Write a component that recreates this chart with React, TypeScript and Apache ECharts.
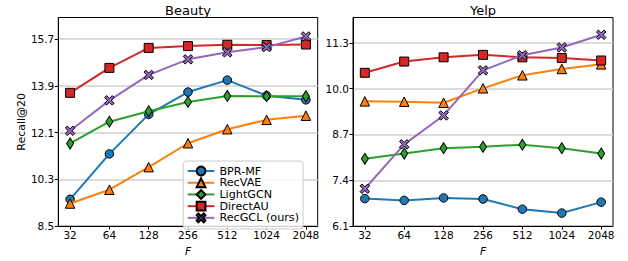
import React, { useEffect, useRef } from "react";
import * as echarts from "echarts";

const categories = ["32", "64", "128", "256", "512", "1024", "2048"];
const methodNames = ["BPR-MF", "RecVAE", "LightGCN", "DirectAU", "RecGCL (ours)"];

const beautyBPRMF = [9.53, 11.28, 12.8, 13.66, 14.12, 13.52, 13.36];
const beautyRecVAE = [9.37, 9.9, 10.77, 11.69, 12.23, 12.59, 12.75];
const beautyLightGCN = [11.68, 12.52, 12.92, 13.28, 13.51, 13.5, 13.5];
const beautyDirectAU = [13.63, 14.59, 15.36, 15.43, 15.48, 15.47, 15.49];
const beautyRecGCL = [12.17, 13.34, 14.32, 14.92, 15.19, 15.39, 15.8];

const yelpBPRMF = [6.88, 6.83, 6.9, 6.87, 6.58, 6.47, 6.78];
const yelpRecVAE = [9.64, 9.63, 9.6, 10.01, 10.38, 10.56, 10.69];
const yelpLightGCN = [8.01, 8.16, 8.31, 8.35, 8.41, 8.31, 8.16];
const yelpDirectAU = [10.45, 10.77, 10.89, 10.96, 10.89, 10.87, 10.8];
const yelpRecGCL = [7.16, 8.42, 9.24, 10.52, 10.95, 11.17, 11.53];

const beautyTicks = { min: 8.5, max: 16.53, interval: 1.8 };
const yelpTicks = { min: 6.1, max: 12.02, interval: 1.3 };

const colors = ["#1f77b4", "#ff7f0e", "#2ca02c", "#d62728", "#9467bd"];
const XPATH =
  "path://M2,0 L5,3 L8,0 L10,2 L7,5 L10,8 L8,10 L5,7 L2,10 L0,8 L3,5 L0,2 Z";
const symbols: any[] = ["circle", "triangle", "diamond", "rect", XPATH];
const symbolSizes: any[] = [8.5, 9.5, [7, 11], 9, 9.5];

const FONT = "DejaVu Sans";

export default function App() {
  const ref = useRef<HTMLDivElement>(null);
  useEffect(() => {
    if (!ref.current) return;
    const chart = echarts.init(ref.current, null, { renderer: "svg" });
    const beauty = [beautyBPRMF, beautyRecVAE, beautyLightGCN, beautyDirectAU, beautyRecGCL];
    const yelp = [yelpBPRMF, yelpRecVAE, yelpLightGCN, yelpDirectAU, yelpRecGCL];

    const mk = (name: string, vals: number[], idx: number, k: number) => ({
      type: "line",
      name,
      xAxisIndex: idx,
      yAxisIndex: idx,
      data: vals.map((v, i) => [i, v]),
      symbol: symbols[k],
      symbolSize: symbolSizes[k],
      showAllSymbol: true,
      color: colors[k],
      lineStyle: { color: colors[k], width: 2 },
      itemStyle: { color: colors[k], borderColor: "#000", borderWidth: 1 },
      emphasis: { disabled: true },
      z: 2 + k,
    });

    const xAxis = (gridIndex: number) => ({
      type: "value",
      gridIndex,
      min: -0.3,
      max: 6.3,
      name: "F",
      nameLocation: "middle",
      nameGap: 13,
      nameTextStyle: { fontFamily: FONT, fontSize: 10.5, fontStyle: "italic", color: "#000" },
      axisLine: { show: true, onZero: false, lineStyle: { color: "#000", width: 1 } },
      axisTick: {
        show: true,
        length: 3.5,
        customValues: [0, 1, 2, 3, 4, 5, 6],
        lineStyle: { color: "#000", width: 1 },
      },
      axisLabel: {
        customValues: [0, 1, 2, 3, 4, 5, 6],
        formatter: (v: number) => categories[Math.round(v)] ?? "",
        margin: 3,
        fontFamily: FONT,
        fontSize: 10.5,
        color: "#000",
      },
      splitLine: { show: false },
    });

    const yAxis = (gridIndex: number, t: any, withName: boolean) => ({
      type: "value",
      gridIndex,
      min: t.min,
      max: t.max,
      interval: t.interval,
      name: withName ? "Recall@20" : "",
      nameLocation: "middle",
      nameGap: 31,
      nameTextStyle: { fontFamily: FONT, fontSize: 11, color: "#000" },
      axisLine: { show: true, onZero: false, lineStyle: { color: "#000", width: 1 } },
      axisTick: { show: true, length: 3.5, lineStyle: { color: "#000", width: 1 } },
      axisLabel: {
        showMaxLabel: false,
        formatter: (v: number) => v.toFixed(1),
        margin: 4,
        fontFamily: FONT,
        fontSize: 10.5,
        color: "#000",
      },
      splitLine: {
        show: true,
        showMaxLine: false,
        lineStyle: { color: "#cfcfcf", width: 1.5 },
      },
    });

    const series: any[] = [];
    methodNames.forEach((n, k) => series.push(mk(n, beauty[k], 0, k)));
    methodNames.forEach((n, k) => series.push(mk(n, yelp[k], 1, k)));

    chart.setOption({
      animation: false,
      textStyle: { fontFamily: FONT },
      title: [
        {
          text: "Beauty",
          left: 188,
          top: 4,
          textAlign: "center",
          padding: 0,
          textStyle: { fontFamily: FONT, fontSize: 13, fontWeight: "normal", color: "#000" },
        },
        {
          text: "Yelp",
          left: 483,
          top: 4,
          textAlign: "center",
          padding: 0,
          textStyle: { fontFamily: FONT, fontSize: 13, fontWeight: "normal", color: "#000" },
        },
      ],
      grid: [
        { left: 58.3, right: 310.3, top: 17.5, bottom: 26.5, show: true, borderColor: "#000", borderWidth: 1, backgroundColor: "transparent" },
        { left: 353, right: 15, top: 17.5, bottom: 26.5, show: true, borderColor: "#000", borderWidth: 1, backgroundColor: "transparent" },
      ],
      xAxis: [xAxis(0), xAxis(1)],
      yAxis: [yAxis(0, beautyTicks, true), yAxis(1, yelpTicks, false)],
      legend: {
        data: methodNames,
        orient: "vertical",
        left: 183.3,
        top: 161,
        padding: [4.2, 4, 5.3, 3.4],
        itemGap: 0,
        itemWidth: 26.7,
        itemHeight: 11,
        itemTextGap: 9.4,
        backgroundColor: "rgba(255,255,255,0.8)",
        borderColor: "#cccccc",
        borderWidth: 1,
        borderRadius: 3,
        textStyle: { fontFamily: FONT, fontSize: 11.2, color: "#000", lineHeight: 11.7 },
        selectedMode: false,
        z: 20,
      },
      series,
    });
    return () => chart.dispose();
  }, []);
  return (
    <div
      ref={ref}
      style={{ position: "fixed", left: 0, top: 0, width: 628, height: 261, background: "#fff" }}
    />
  );
}
